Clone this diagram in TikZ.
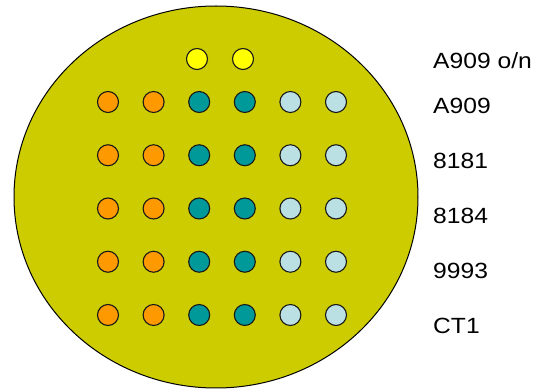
\documentclass[tikz,border=0pt]{standalone}
\usepackage{fontspec}
\setmainfont{Liberation Sans}
\definecolor{plate}{HTML}{CCCC00}
\definecolor{wellor}{HTML}{FF9900}
\definecolor{wellte}{HTML}{009999}
\definecolor{welllb}{HTML}{BBE0E3}
\definecolor{wellye}{HTML}{FFFF00}
\newcommand{\strainlbl}[1]{\scalebox{1.12}[1]{#1}}

\begin{document}
\begin{tikzpicture}[x=1pt,y=-1pt,
	well/.style={circle,draw=black!90,line width=1.1pt,minimum size=21pt,inner sep=0pt},
	strain/.style={anchor=base west,inner sep=0pt,font=\fontsize{22}{26}\selectfont}]
	\useasboundingbox (0,0) rectangle (539,390);
	\draw[fill=plate,line width=1pt] (216,197) ellipse [x radius=202, y radius=191];
	% overnight culture
	\node[well,fill=wellye] (on1) at (197,59){};
	\node[well,fill=wellye] (on2) at (243,59){};
	% strains, one row each
	\foreach \r in {1,...,5}{
		\foreach \c/\col in {1/wellor,2/wellor,3/wellte,4/wellte,5/welllb,6/welllb}{
			\node[well,fill=\col] (w\r-\c) at ({108+45.6*(\c-1)},{102+53.25*(\r-1)}){};
		}
	}
	\node[strain] (lon) at (433,69){\strainlbl{A909 o/n}};
	\node[strain] (l1) at (433,114){\strainlbl{A909}};
	\node[strain] (l2) at (433,169){\strainlbl{8181}};
	\node[strain] (l3) at (433,224){\strainlbl{8184}};
	\node[strain] (l4) at (433,279){\strainlbl{9993}};
	\node[strain] (l5) at (433,334){\strainlbl{CT1}};
\end{tikzpicture}
\end{document}
